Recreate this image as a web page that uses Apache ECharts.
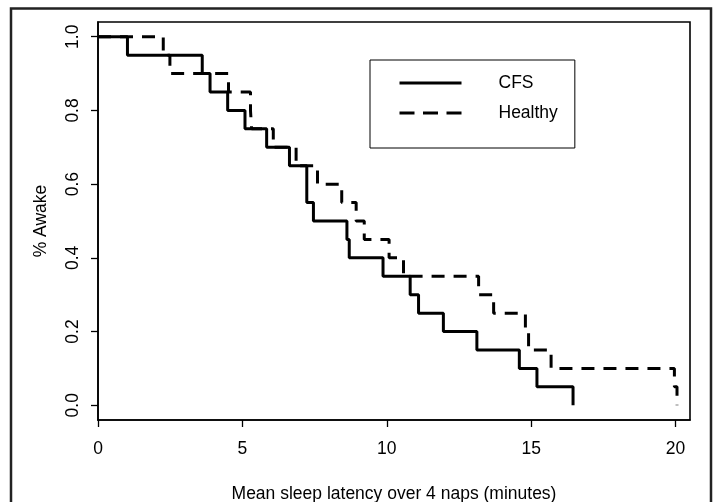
<!DOCTYPE html>
<html>
<head>
<meta charset="utf-8">
<script src="https://cdn.jsdelivr.net/npm/echarts@6/dist/echarts.min.js"></script>
<style>
  html, body { margin: 0; padding: 0; background: #fff; }
  #main { width: 715px; height: 502px; }
</style>
</head>
<body>
<div id="main"></div>
<script>
// CFS group: time of each drop and survival after it
var cfs_time = [0, 1.02, 3.61, 3.88, 4.49, 5.09, 5.84, 6.63, 7.23, 7.46, 8.62, 8.70, 9.87, 10.81, 11.10, 11.96, 13.12, 14.59, 15.20, 16.45];
var cfs_awake = [1.0, 0.95, 0.90, 0.85, 0.80, 0.75, 0.70, 0.65, 0.55, 0.50, 0.45, 0.40, 0.35, 0.30, 0.25, 0.20, 0.15, 0.10, 0.05, 0.0];

// Healthy group
var healthy_time = [0, 2.26, 2.49, 4.52, 5.28, 5.32, 6.07, 6.86, 7.60, 8.44, 8.94, 9.22, 10.08, 10.58, 13.18, 13.70, 14.80, 14.91, 15.69, 19.96, 20.05];
var healthy_awake = [1.0, 0.95, 0.90, 0.85, 0.80, 0.75, 0.70, 0.65, 0.60, 0.55, 0.50, 0.45, 0.40, 0.35, 0.30, 0.25, 0.20, 0.15, 0.10, 0.05, 0.0];

var x_ticks = [0, 5, 10, 15, 20];
var y_ticks = [0, 0.2, 0.4, 0.6, 0.8, 1.0];

function pairs(xs, ys) {
    var out = [];
    for (var i = 0; i < xs.length; i++) {
        out.push([xs[i], ys[i]]);
    }
    return out;
}

var font = 'Liberation Sans, Arial, sans-serif';
var fs = 17.5;

var myChart = echarts.init(document.getElementById('main'));
var option = {
    animation: false,
    backgroundColor: '#fff',
    grid: {
        left: 98, right: 25, top: 22, bottom: 82,
        outerBoundsMode: 'none',
        containLabel: false,
        show: true,
        borderColor: '#000',
        borderWidth: 1.6
    },
    legend: {
        orient: 'vertical',
        left: 370,
        top: 60,
        data: [
            { name: 'CFS', lineStyle: { width: 3, type: 'solid' } },
            { name: 'Healthy', lineStyle: { width: 3, type: [15, 8.5] } }
        ],
        borderColor: '#000',
        borderWidth: 1,
        padding: [14, 17, 26, 28],
        itemGap: 12,
        itemWidth: 62,
        itemHeight: 18,
        itemStyle: { opacity: 0 },
        lineStyle: { width: 3 },
        textStyle: {
            fontFamily: font,
            fontSize: fs,
            color: '#000',
            padding: [0, 0, 0, 32]
        }
    },
    xAxis: {
        type: 'value',
        min: 0,
        max: 20.5,
        name: 'Mean sleep latency over 4 naps (minutes)',
        nameLocation: 'middle',
        nameGap: 65,
        nameTextStyle: { fontFamily: font, fontSize: fs, color: '#000' },
        axisLine: { show: true, onZero: false, lineStyle: { color: '#000', width: 1.6 } },
        axisTick: {
            length: 7,
            customValues: x_ticks,
            lineStyle: { color: '#000', width: 1.3 }
        },
        axisLabel: {
            customValues: x_ticks,
            margin: 20,
            fontFamily: font,
            fontSize: fs,
            color: '#000'
        },
        splitLine: { show: false }
    },
    yAxis: {
        type: 'value',
        min: -0.04,
        max: 1.04,
        name: '% Awake',
        nameLocation: 'middle',
        nameGap: 48,
        nameTextStyle: { fontFamily: font, fontSize: fs, color: '#000' },
        axisLine: { show: true, onZero: false, lineStyle: { color: '#000', width: 1.6 } },
        axisTick: {
            length: 7,
            customValues: y_ticks,
            lineStyle: { color: '#000', width: 1.3 }
        },
        axisLabel: {
            customValues: y_ticks,
            rotate: 90,
            margin: 16,
            fontFamily: font,
            fontSize: fs,
            color: '#000',
            formatter: function (v) { return v.toFixed(1); }
        },
        splitLine: { show: false }
    },
    graphic: [
        {
            type: 'rect',
            shape: { x: 11, y: 8.5, width: 700, height: 510 },
            style: { fill: 'none', stroke: '#222', lineWidth: 2.5 },
            silent: true
        }
    ],
    series: [
        {
            name: 'CFS',
            type: 'line',
            step: 'end',
            symbol: 'none',
            data: pairs(cfs_time, cfs_awake),
            lineStyle: { color: '#000', width: 3 },
            itemStyle: { color: '#000' }
        },
        {
            name: 'Healthy',
            type: 'line',
            step: 'end',
            symbol: 'none',
            data: pairs(healthy_time, healthy_awake),
            lineStyle: { color: '#000', width: 3, type: [13, 9] },
            itemStyle: { color: '#000' }
        }
    ]
};
myChart.setOption(option);
</script>
</body>
</html>
